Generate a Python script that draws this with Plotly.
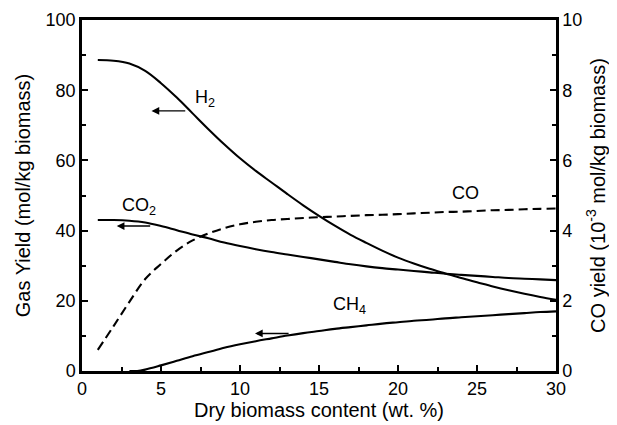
import plotly.graph_objects as go

x_vals = [1, 2, 3, 4, 5, 6, 7, 8, 9, 10, 11, 12, 13, 14, 15, 16, 17, 18, 19, 20,
          21, 22, 23, 24, 25, 26, 27, 28, 29, 30]

h2 = [88.6, 88.4, 87.6, 85.5, 82.0, 77.9, 73.4, 68.9, 64.6, 60.6, 57.0, 53.7, 50.4, 47.2, 44.2,
      41.4, 38.8, 36.5, 34.3, 32.3, 30.6, 29.1, 27.8, 26.5, 25.3, 24.1, 23.0, 22.0, 21.1, 20.3]

co2 = [43.0, 43.0, 42.8, 42.3, 41.3, 40.1, 38.9, 37.8, 36.6, 35.6, 34.7, 33.9, 33.2, 32.5, 31.8,
       31.1, 30.4, 29.8, 29.3, 28.9, 28.5, 28.1, 27.7, 27.4, 27.1, 26.8, 26.5, 26.3, 26.1, 25.9]

ch4_x = [3, 3.5, 4, 5, 6, 7, 8, 9, 10, 11, 12, 13, 14, 15, 16, 17, 18, 19, 20,
         21, 22, 23, 24, 25, 26, 27, 28, 29, 30]
ch4 = [0.0, 0.0, 0.4, 1.6, 2.9, 4.2, 5.4, 6.6, 7.6, 8.5, 9.3, 10.1, 10.8, 11.4, 12.0, 12.5,
       13.0, 13.5, 13.9, 14.3, 14.6, 15.0, 15.3, 15.6, 15.9, 16.2, 16.5, 16.8, 17.0]

co = [0.60, 1.28, 1.97, 2.62, 3.05, 3.43, 3.72, 3.92, 4.07, 4.18, 4.25, 4.30, 4.33, 4.36, 4.38,
      4.40, 4.42, 4.44, 4.45, 4.47, 4.49, 4.51, 4.53, 4.54, 4.56, 4.58, 4.59, 4.61, 4.62, 4.63]

x_ticks = [0, 5, 10, 15, 20, 25, 30]
y_left_ticks = [0, 20, 40, 60, 80, 100]
y_right_ticks = [0, 2, 4, 6, 8, 10]

FONT = "Liberation Sans, Arial, sans-serif"
LW = 2.1

fig = go.Figure()
fig.add_trace(go.Scatter(x=x_vals, y=h2, mode="lines", line=dict(color="black", width=LW, shape="spline"), name="H2"))
fig.add_trace(go.Scatter(x=x_vals, y=co2, mode="lines", line=dict(color="black", width=LW, shape="spline"), name="CO2"))
fig.add_trace(go.Scatter(x=ch4_x, y=ch4, mode="lines", line=dict(color="black", width=LW, shape="spline"), name="CH4"))
fig.add_trace(go.Scatter(x=x_vals, y=co, mode="lines", yaxis="y2",
                         line=dict(color="black", width=LW, shape="spline", dash="9px,5px"), name="CO"))

def arrow(x_head, x_tail, y):
    fig.add_annotation(x=x_head, y=y, ax=x_tail, ay=y, xref="x", yref="y", axref="x", ayref="y",
                       showarrow=True, arrowhead=2, arrowsize=1.1, arrowwidth=1.4, arrowcolor="black", text="")

arrow(4.4, 6.63, 74.1)
arrow(2.2, 4.41, 41.3)
arrow(10.95, 13.17, 10.7)

def label(x, y, txt):
    fig.add_annotation(x=x, y=y, xref="x", yref="y", text=txt, showarrow=False,
                       font=dict(family=FONT, size=18, color="black"))

label(7.8, 77.5, "H<sub>2</sub>")
label(3.6, 47.0, "CO<sub>2</sub>")
label(16.9, 18.6, "CH<sub>4</sub>")
label(24.3, 50.6, "CO")

axis_common = dict(showline=True, linecolor="black", linewidth=2.5, ticks="inside", ticklen=6,
                   tickwidth=2, tickcolor="black", showgrid=False, zeroline=False, automargin=False,
                   tickfont=dict(family=FONT, size=18, color="black"),
                   title_font=dict(family=FONT, size=20, color="black"))

fig.update_layout(
    width=617, height=425,
    margin=dict(l=74, r=69, t=12, b=62),
    paper_bgcolor="white", plot_bgcolor="white",
    showlegend=False,
    xaxis=dict(range=[0, 30], tickvals=x_ticks, mirror=True,
               minor=dict(dtick=2.5, ticks="inside", ticklen=4, tickwidth=2, tickcolor="black"),
               title=dict(text="Dry biomass content (wt. %)", standoff=2), **axis_common),
    yaxis=dict(range=[0, 100], tickvals=y_left_ticks,
               minor=dict(dtick=10, ticks="inside", ticklen=4, tickwidth=2, tickcolor="black"),
               title=dict(text="Gas Yield (mol/kg biomass)", standoff=10), **axis_common),
    yaxis2=dict(range=[0, 10], tickvals=y_right_ticks, overlaying="y", side="right",
                minor=dict(dtick=1, ticks="inside", ticklen=4, tickwidth=2, tickcolor="black"),
                title=dict(text="CO yield (10<sup>-3</sup> mol/kg biomass)", standoff=10), **axis_common),
)

fig.write_html("out.html")
